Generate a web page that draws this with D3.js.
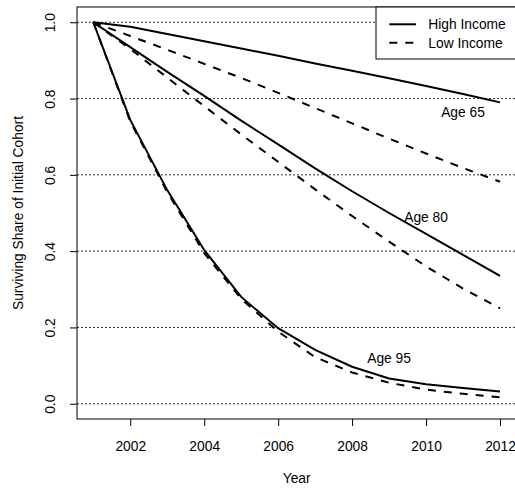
<!DOCTYPE html>
<html>
<head>
<meta charset="utf-8">
<script src="https://cdn.jsdelivr.net/npm/d3@7"></script>
<style>
  html, body { margin: 0; padding: 0; background: #fff; }
  svg { display: block; font-family: "Liberation Sans", Arial, Helvetica, sans-serif; }
</style>
</head>
<body>
<svg id="chart" width="515" height="491"></svg>
<script>
// Survival of an initial cohort by starting age and income group
const years = [2001, 2002, 2003, 2004, 2005, 2006, 2007, 2008, 2009, 2010, 2011, 2012];

const age65High = [1.000, 0.988, 0.969, 0.950, 0.931, 0.912, 0.892, 0.873, 0.853, 0.833, 0.812, 0.790];
const age65Low  = [1.000, 0.964, 0.928, 0.891, 0.854, 0.815, 0.775, 0.735, 0.695, 0.656, 0.618, 0.582];
const age80High = [1.000, 0.935, 0.870, 0.807, 0.742, 0.680, 0.617, 0.557, 0.500, 0.445, 0.390, 0.335];
const age80Low  = [1.000, 0.930, 0.855, 0.780, 0.706, 0.634, 0.562, 0.492, 0.425, 0.360, 0.302, 0.250];
const age95High = [1.000, 0.744, 0.560, 0.403, 0.280, 0.198, 0.141, 0.097, 0.066, 0.051, 0.041, 0.032];
const age95Low  = [1.000, 0.740, 0.555, 0.395, 0.275, 0.189, 0.122, 0.082, 0.055, 0.037, 0.026, 0.017];

const xTicks = [2002, 2004, 2006, 2008, 2010, 2012];
const yTicks = [0.0, 0.2, 0.4, 0.6, 0.8, 1.0];

const seriesNames = ["High Income", "Low Income"];
const ageLabels = [
  { text: "Age 65", year: 2011, value: 0.765 },
  { text: "Age 80", year: 2010, value: 0.490 },
  { text: "Age 95", year: 2009, value: 0.120 }
];

const series = [
  { values: age65High, group: 0 },
  { values: age65Low,  group: 1 },
  { values: age80High, group: 0 },
  { values: age80Low,  group: 1 },
  { values: age95High, group: 0 },
  { values: age95Low,  group: 1 }
];
const dashFor = ["none", "8,8"];

const svg = d3.select("#chart");
const fontSize = 13.8;

// plot region (axes padded 4% beyond the data range)
const plotLeft = 77, plotRight = 516.3, plotTop = 7, plotBottom = 419;
const xPad = (2012 - 2001) * 0.04, yPad = 0.04;
const x = d3.scaleLinear().domain([2001 - xPad, 2012 + xPad]).range([plotLeft, plotRight]);
const y = d3.scaleLinear().domain([0 - yPad, 1 + yPad]).range([plotBottom, plotTop]);

// horizontal reference lines
svg.append("g")
  .selectAll("line")
  .data(yTicks)
  .join("line")
  .attr("x1", plotLeft).attr("x2", plotRight)
  .attr("y1", d => y(d)).attr("y2", d => y(d))
  .attr("stroke", "#333")
  .attr("stroke-width", 1)
  .attr("stroke-dasharray", "2,2");

// survival curves
const line = d3.line()
  .x((d, i) => x(years[i]))
  .y(d => y(d));

svg.append("g")
  .selectAll("path")
  .data(series)
  .join("path")
  .attr("d", d => line(d.values))
  .attr("fill", "none")
  .attr("stroke", "#000")
  .attr("stroke-width", 2)
  .attr("stroke-dasharray", d => dashFor[d.group]);

// curve labels
svg.append("g")
  .selectAll("text")
  .data(ageLabels)
  .join("text")
  .attr("x", d => x(d.year))
  .attr("y", d => y(d.value))
  .attr("dy", "0.36em")
  .attr("text-anchor", "middle")
  .attr("font-size", fontSize)
  .text(d => d.text);

// bottom axis
const xAxis = d3.axisBottom(x)
  .tickValues(xTicks)
  .tickFormat(d3.format("d"))
  .tickSize(7)
  .tickPadding(0);
const gx = svg.append("g").attr("transform", `translate(0,${plotBottom})`).call(xAxis);
gx.select(".domain").remove();
gx.selectAll(".tick line").attr("stroke", "#000");
gx.selectAll(".tick text")
  .attr("font-size", fontSize)
  .attr("font-family", null)
  .attr("fill", "#000")
  .attr("dy", null)
  .attr("y", 450.7 - plotBottom);

// left axis
const yAxis = d3.axisLeft(y)
  .tickValues(yTicks)
  .tickFormat(d3.format(".1f"))
  .tickSize(7)
  .tickPadding(0);
const gy = svg.append("g").attr("transform", `translate(${plotLeft},0)`).call(yAxis);
gy.select(".domain").remove();
gy.selectAll(".tick line").attr("stroke", "#000");
gy.selectAll(".tick text")
  .attr("font-size", fontSize)
  .attr("font-family", null)
  .attr("fill", "#000")
  .attr("x", null)
  .attr("dy", null)
  .attr("text-anchor", "middle")
  .attr("transform", `translate(${55 - plotLeft},0) rotate(-90)`);

// plot frame
svg.append("rect")
  .attr("x", plotLeft).attr("y", plotTop)
  .attr("width", plotRight - plotLeft).attr("height", plotBottom - plotTop)
  .attr("fill", "none")
  .attr("stroke", "#000")
  .attr("stroke-width", 1);

// axis titles
svg.append("text")
  .attr("x", (plotLeft + plotRight) / 2)
  .attr("y", 483)
  .attr("text-anchor", "middle")
  .attr("font-size", fontSize)
  .text("Year");

svg.append("text")
  .attr("transform", `translate(23,${(plotTop + plotBottom) / 2}) rotate(-90)`)
  .attr("text-anchor", "middle")
  .attr("font-size", fontSize)
  .text("Surviving Share of Initial Cohort");

// legend
const legend = svg.append("g");
legend.append("rect")
  .attr("x", 376).attr("y", plotTop)
  .attr("width", plotRight - 376).attr("height", 52)
  .attr("fill", "#fff")
  .attr("stroke", "#000")
  .attr("stroke-width", 1);

const legendRows = legend.selectAll("g.row")
  .data(seriesNames)
  .join("g")
  .attr("class", "row")
  .attr("transform", (d, i) => `translate(0,${24.3 + i * 18.4})`);

legendRows.append("line")
  .attr("x1", 389.3).attr("x2", 416)
  .attr("y1", 0).attr("y2", 0)
  .attr("stroke", "#000")
  .attr("stroke-width", 2)
  .attr("stroke-dasharray", (d, i) => dashFor[i]);

legendRows.append("text")
  .attr("x", 428.3)
  .attr("y", 0)
  .attr("dy", "0.36em")
  .attr("font-size", fontSize)
  .text(d => d);
</script>
</body>
</html>
